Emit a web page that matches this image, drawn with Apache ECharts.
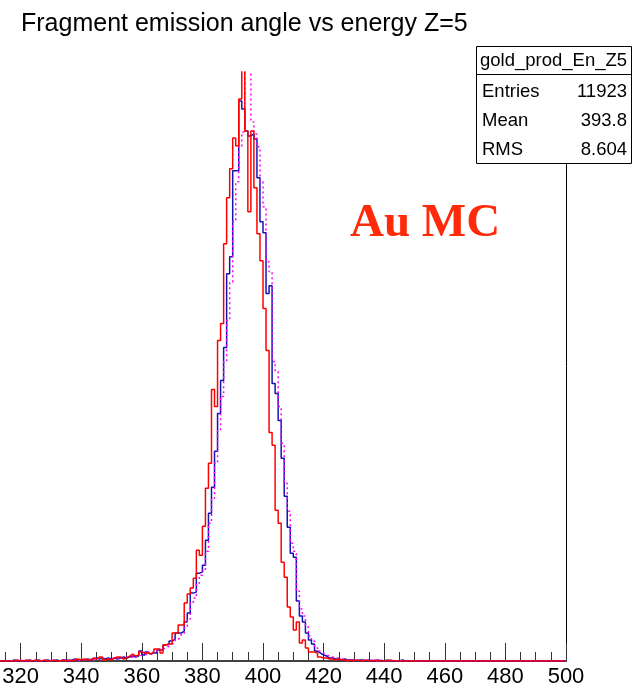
<!DOCTYPE html>
<html>
<head>
<meta charset="utf-8">
<script src="https://cdn.jsdelivr.net/npm/echarts@6/dist/echarts.min.js"></script>
<style>
html,body{margin:0;padding:0;background:#fff;overflow:hidden;width:639px;height:690px;}
#wrap{position:relative;width:639px;height:690px;overflow:hidden;}
#chart{position:absolute;left:-40px;top:0;width:679px;height:690px;}
</style>
</head>
<body>
<div id="wrap"><div id="chart"></div></div>
<script>
// ---- data ----
const titleText = 'Fragment emission angle vs energy Z=5';
const histName = 'gold_prod_En_Z5';
const statsLabels = ['Entries', 'Mean', 'RMS'];
const statsValues = ['11923', '393.8', '8.604'];
const annotation = 'Au MC';
const xMin = 300, xMax = 500, xStep = 20;
const yMax = 590;
const binStart = 310;   // lower edge of first bin
const binWidth = 1;

// red histogram (bins 310..459)
const redCounts = [
  0,0,0,0,0,0,0,0,1,0,
  0,1,0,0,1,0,0,1,0,0,
  1,0,0,1,0,1,0,1,2,1,
  2,1,1,3,2,4,4,1,2,1,
  3,4,4,2,3,5,7,5,6,9,
  8,8,7,9,12,12,8,16,17,17,
  28,28,36,36,58,67,73,83,111,106,
  135,173,198,272,255,321,338,418,464,493,
  524,516,563,640,531,450,531,474,428,401,
  353,311,229,216,151,138,99,84,54,44,
  31,39,18,21,13,9,9,8,4,3,
  3,2,2,1,2,1,1,0,1,0,
  1,0,0,1,0,0,1,0,0,0,
  0,1,0,0,0,0,0,0,0,0,
  0,0,0,0,0,0,0,0,0,0
];
// blue histogram (bins 310..459)
const blueCounts = [
  0,0,0,0,0,0,0,1,0,0,
  0,0,1,0,0,1,0,0,1,0,
  0,1,0,1,1,0,1,2,1,1,
  1,2,1,2,3,2,3,2,3,2,
  3,2,3,4,3,4,5,4,5,10,
  6,9,7,8,8,11,11,16,17,20,
  22,28,28,30,39,48,68,69,88,89,
  96,121,148,174,210,248,281,314,388,405,
  491,491,561,553,531,526,528,523,484,440,
  429,368,376,278,268,241,203,165,134,108,
  104,60,45,39,28,21,17,10,8,6,
  5,3,3,2,2,1,2,1,1,1,
  0,1,1,0,1,0,0,1,0,0,
  1,0,0,0,0,1,0,0,0,0,
  0,0,0,0,0,0,0,0,0,0
];
// magenta dotted histogram (bins 310..459)
const magentaCounts = [
  0,0,0,0,0,0,0,0,0,1,
  0,0,0,1,0,0,0,1,0,0,
  1,0,0,0,1,0,1,1,0,1,
  1,1,2,1,2,3,2,2,2,3,
  2,3,2,3,4,3,4,5,4,6,
  7,6,9,8,10,9,12,13,15,17,
  19,22,24,27,33,42,58,63,78,86,
  90,110,138,163,198,232,265,300,341,380,
  440,480,515,530,610,610,540,528,515,480,
  455,400,390,300,290,255,218,178,150,118,
  110,70,52,45,34,25,20,13,10,8,
  6,5,4,3,3,2,2,1,1,1,
  1,1,0,1,0,1,0,0,1,0,
  0,0,1,0,0,0,0,0,0,0,
  0,0,0,0,0,0,0,0,0,0
];

function steps(counts) {
  const pts = counts.map((v, i) => [binStart + i * binWidth, v]);
  pts.push([binStart + counts.length * binWidth, 0]);
  pts.push([xMax, 0]);
  return pts;
}

const FONT = '"Liberation Sans", Arial, Helvetica, sans-serif';
const OFF = 40; // chart canvas is shifted 40px to the left of the page
const chart = echarts.init(document.getElementById('chart'), null, {renderer: 'canvas'});

function histSeries(name, counts, color, type, width, z) {
  return {
    name: name, type: 'line', step: 'end', showSymbol: false, symbol: 'none',
    data: steps(counts), xAxisIndex: 0, yAxisIndex: 0, clip: true, z: z,
    lineStyle: {color: color, width: width, type: type},
    animation: false
  };
}

const boxX = 476 + OFF, boxY = 46, boxW = 155, boxH = 117, headH = 28, rowH = 29;

chart.setOption({
  animation: false,
  backgroundColor: '#fff',
  title: {
    text: titleText, left: 21 + OFF, top: 12, padding: 0,
    textStyle: {fontFamily: FONT, fontSize: 25, fontWeight: 'normal', color: '#000'}
  },
  grid: {left: 0, right: 73, top: 72, bottom: 29, containLabel: false, outerBoundsMode: 'none'},
  xAxis: [{
    type: 'value', min: xMin, max: xMax, interval: xStep, position: 'bottom',
    axisLine: {show: true, lineStyle: {color: '#000', width: 1.5}},
    axisTick: {show: true, inside: true, length: 18, lineStyle: {color: '#333', width: 1}},
    minorTick: {show: true, splitNumber: 4, length: 9, lineStyle: {color: '#333', width: 1}},
    axisLabel: {show: true, margin: 5, fontFamily: FONT, fontSize: 22, color: '#000'},
    splitLine: {show: false}, minorSplitLine: {show: false}
  }, {
    type: 'value', min: xMin, max: xMax, position: 'top',
    axisLine: {show: true, lineStyle: {color: '#444', width: 1.5}},
    axisTick: {show: false}, axisLabel: {show: false}, splitLine: {show: false}
  }],
  yAxis: [{
    type: 'value', min: 0, max: yMax, position: 'left', show: false
  }, {
    type: 'value', min: 0, max: yMax, position: 'right',
    axisLine: {show: true, lineStyle: {color: '#000', width: 1}},
    axisTick: {show: false}, axisLabel: {show: false}, splitLine: {show: false}
  }],
  series: [
    histSeries('blue', blueCounts, '#1414b4', 'solid', 1.5, 2),
    histSeries('magenta', magentaCounts, '#ff00ff', [2, 3], 1.5, 3),
    histSeries('red', redCounts, '#ff0000', 'solid', 1.5, 4)
  ],
  graphic: [
    {type: 'text', left: 350 + OFF, top: 200, z: 50,
     style: {text: annotation, font: 'bold 47px "Liberation Serif", "Times New Roman", serif', fill: '#ff2a0a'}},
    {type: 'rect', z: 100, shape: {x: boxX + 0.5, y: boxY + 0.5, width: boxW, height: boxH},
     style: {fill: '#fff', stroke: '#000', lineWidth: 1}},
    {type: 'line', z: 101, shape: {x1: boxX, y1: boxY + headH + 0.5, x2: boxX + boxW, y2: boxY + headH + 0.5},
     style: {stroke: '#000', lineWidth: 1}},
    {type: 'text', z: 102, x: boxX + boxW / 2, y: boxY + headH / 2 + 1,
     style: {text: histName, font: '18.5px ' + FONT, fill: '#000', textAlign: 'center', textVerticalAlign: 'middle'}}
  ].concat(statsLabels.map((lab, i) => ({
     type: 'text', z: 102, x: boxX + 6, y: boxY + headH + rowH * i + rowH / 2 + 3,
     style: {text: lab, font: '18.5px ' + FONT, fill: '#000', textAlign: 'left', textVerticalAlign: 'middle'}
  }))).concat(statsValues.map((val, i) => ({
     type: 'text', z: 102, x: boxX + boxW - 4, y: boxY + headH + rowH * i + rowH / 2 + 3,
     style: {text: val, font: '18.5px ' + FONT, fill: '#000', textAlign: 'right', textVerticalAlign: 'middle'}
  })))
});
</script>
</body>
</html>
